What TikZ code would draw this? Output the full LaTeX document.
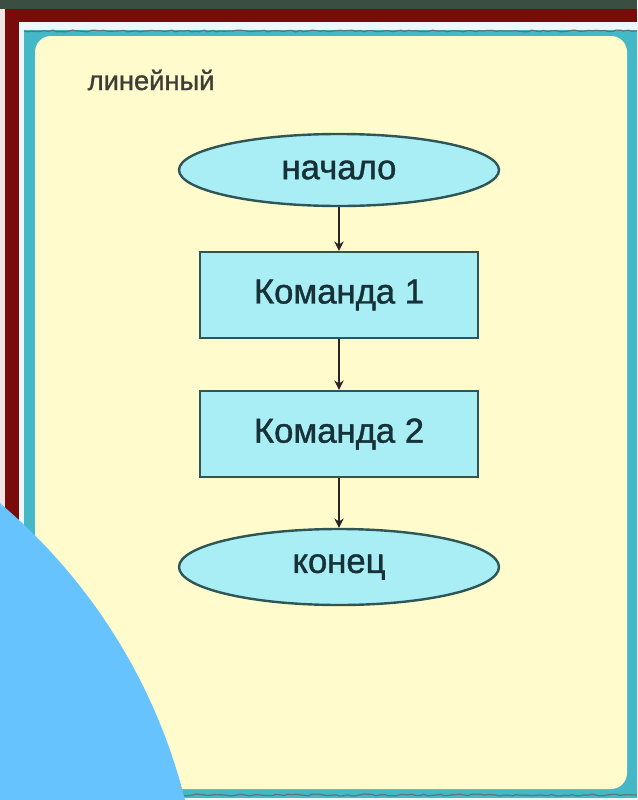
\documentclass[tikz,border=0pt]{standalone}
\usepackage{fontspec}
\setmainfont{Liberation Sans}
\newfontfamily\heavyfont[FakeBold=1.2]{Liberation Sans}
\usetikzlibrary{shapes.geometric,arrows.meta,decorations.pathmorphing}
\definecolor{topband}{HTML}{3B4E42}
\definecolor{darkred}{HTML}{7A0B0B}
\definecolor{paleedge}{HTML}{F2E4E4}
\definecolor{teal}{HTML}{45B8C8}
\definecolor{cream}{HTML}{FFFBCC}
\definecolor{nodefill}{HTML}{A9EEF4}
\definecolor{nodeline}{HTML}{2E5656}
\definecolor{nodetext}{HTML}{163238}
\definecolor{bluecirc}{HTML}{66C3FD}
\definecolor{labelgray}{HTML}{3E3E38}
\tikzset{
  term/.style={ellipse, draw=nodeline, line width=1.8pt, fill=nodefill, text=nodetext,
    font=\heavyfont\fontsize{26pt}{30pt}\selectfont, inner sep=0pt},
  cmdbox/.style={rectangle, draw=nodeline, line width=1.8pt, fill=nodefill, text=nodetext,
    font=\heavyfont\fontsize{26pt}{30pt}\selectfont, minimum width=208.5pt, minimum height=64.5pt, inner sep=0pt},
  flowarrow/.style={draw=black!85, line width=2.2pt, -{Stealth[length=7pt,width=7pt]}},
  wavy/.style={decorate, decoration={random steps, segment length=3pt, amplitude=0.7pt}}
}
\begin{document}
\begin{tikzpicture}[x=0.75pt,y=-0.75pt]
\useasboundingbox (0,0) rectangle (637,800);
\begin{scope}
\clip (0,0) rectangle (637,800);
% outer frame
\fill[paleedge] (0,0) rectangle (637,800);
\fill[darkred] (5,9) rectangle (637,22);
\fill[darkred] (5,9) rectangle (19,800);
\fill[white!92!cyan] (19,22) rectangle (637,800);
\fill[topband] (0,0) rectangle (637,9);
% teal border and cream panel
\fill[teal] (24,30) rectangle (640,798);
\draw[nodeline!80, line width=0.9pt, wavy] (24,31) -- (637,31);
\draw[nodeline!80, line width=0.9pt, wavy] (24,795) -- (637,795);
\fill[cream, rounded corners=12pt] (35,36) rectangle (627,789);
% label
\node[text=labelgray, font=\heavyfont\fontsize{20.5pt}{24pt}\selectfont, anchor=west] (lbl) at (83,80) {линейный};
% flowchart
\node[term, minimum width=240pt, minimum height=54pt] (start) at (339,170) {начало};
\node[cmdbox] (c1) at (339,295) {Команда 1};
\node[cmdbox] (c2) at (339,434) {Команда 2};
\node[term, minimum width=240pt, minimum height=57pt] (stop) at (339,567) {конец};
\draw[flowarrow] (start.south) -- (c1.north);
\draw[flowarrow] (c1.south) -- (c2.north);
\draw[flowarrow] (c2.south) -- (stop.north);
% blue circle
\fill[bluecirc] (-369,939) circle[radius=571];
\end{scope}
\end{tikzpicture}
\end{document}
